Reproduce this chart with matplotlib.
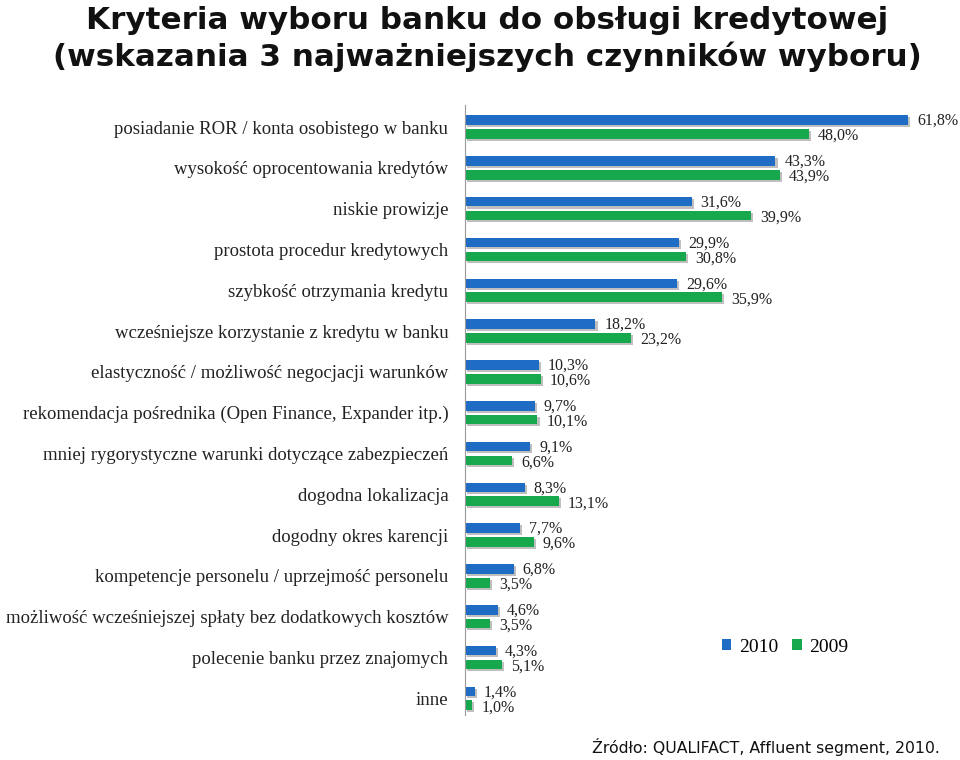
import matplotlib
matplotlib.use('Agg')
import matplotlib.pyplot as plt
import matplotlib.patheffects as pe
import numpy as np

categories = [
    'posiadanie ROR / konta osobistego w banku',
    'wysokość oprocentowania kredytów',
    'niskie prowizje',
    'prostota procedur kredytowych',
    'szybkość otrzymania kredytu',
    'wcześniejsze korzystanie z kredytu w banku',
    'elastyczność / możliwość negocjacji warunków',
    'rekomendacja pośrednika (Open Finance, Expander itp.)',
    'mniej rygorystyczne warunki dotyczące zabezpieczeń',
    'dogodna lokalizacja',
    'dogodny okres karencji',
    'kompetencje personelu / uprzejmość personelu',
    'możliwość wcześniejszej spłaty bez dodatkowych kosztów',
    'polecenie banku przez znajomych',
    'inne',
]
values_2010 = [61.8, 43.3, 31.6, 29.9, 29.6, 18.2, 10.3, 9.7, 9.1, 8.3, 7.7, 6.8, 4.6, 4.3, 1.4]
values_2009 = [48.0, 43.9, 39.9, 30.8, 35.9, 23.2, 10.6, 10.1, 6.6, 13.1, 9.6, 3.5, 3.5, 5.1, 1.0]
series_labels = ['2010', '2009']

BLUE = '#1f6cc4'
GREEN = '#17a84e'
SERIF = 'Liberation Serif'

fig = plt.figure(figsize=(9.6, 7.6), dpi=100)
ax = fig.add_axes([465 / 960, 1 - 715 / 760, 480 / 960, 610 / 760])

y = np.arange(len(categories))
h = 0.235
off = 0.17
shadow = [pe.SimplePatchShadow(offset=(1.5, -1.5), shadow_rgbFace='#b0b0b0', alpha=0.8), pe.Normal()]

b1 = ax.barh(y - off, values_2010, h, color=BLUE, label=series_labels[0])
b2 = ax.barh(y + off, values_2009, h, color=GREEN, label=series_labels[1])
for r in list(b1) + list(b2):
    r.set_path_effects(shadow)

def fmt(v):
    return f'{v:.1f}%'.replace('.', ',')

for yi, v in zip(y, values_2010):
    ax.annotate(fmt(v), xy=(v, yi - off), xytext=(9, -1), textcoords='offset pixels',
                ha='left', va='center', fontsize=11.5, family=SERIF, color='#222222')
for yi, v in zip(y, values_2009):
    ax.annotate(fmt(v), xy=(v, yi + off), xytext=(9, -2), textcoords='offset pixels',
                ha='left', va='center', fontsize=11.5, family=SERIF, color='#222222')

ax.set_xlim(0, 480 / 7.17)
ax.set_ylim(14.41, -0.54)
ax.set_yticks(y)
ax.set_yticklabels(categories, fontsize=13.5, family=SERIF, color='#222222')
ax.tick_params(axis='y', length=0, pad=12)
ax.set_xticks([])
for s in ['top', 'right', 'bottom']:
    ax.spines[s].set_visible(False)
ax.spines['left'].set_color('#999999')
ax.set_facecolor('none')

leg = fig.legend(handles=[b1, b2], labels=series_labels, loc='center', bbox_to_anchor=(785 / 960, 1 - 647 / 760),
                 ncol=2, frameon=False, prop={'family': SERIF, 'size': 14}, handlelength=0.5, handleheight=0.5,
                 handletextpad=0.4, columnspacing=0.7)
for hnd in leg.legend_handles:
    hnd.set_path_effects([])

fig.text(487 / 960, 1 - 39 / 760, 'Kryteria wyboru banku do obsługi kredytowej\n(wskazania 3 najważniejszych czynników wyboru)',
         ha='center', va='center', fontsize=22.3, fontweight='bold', family='DejaVu Sans', linespacing=1.3,
         color='#111111')
fig.text(940 / 960, 1 - 747 / 760, 'Źródło: QUALIFACT, Affluent segment, 2010.', ha='right', va='center',
         fontsize=11.3, family='DejaVu Sans', color='#111111')

fig.savefig('out.png', dpi=100)
